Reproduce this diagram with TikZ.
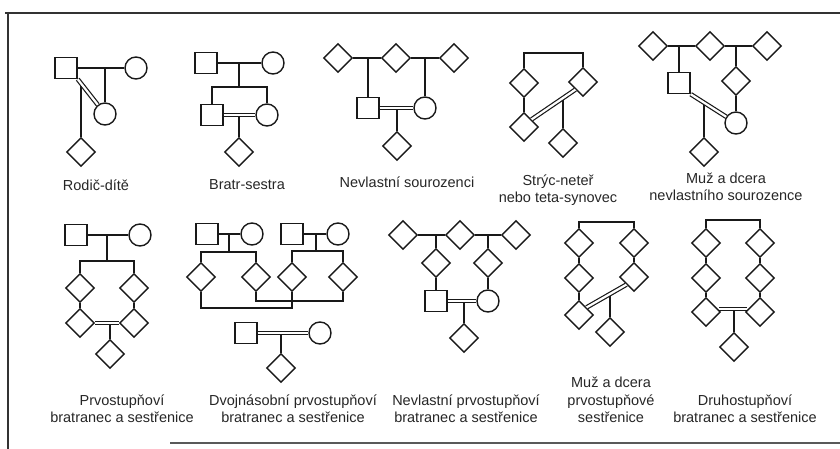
\documentclass[tikz,border=0pt]{standalone}
\usepackage{fontspec}
\setmainfont{Liberation Sans}
\usetikzlibrary{shapes.geometric}
\begin{document}
\begin{tikzpicture}[x=1pt,y=-1pt,
 ln/.style={line width=1.4pt, draw=black!90},
 sqn/.style={ln, rectangle, fill=white, minimum width=22pt, minimum height=21pt, inner sep=0pt},
 cir/.style={ln, circle, fill=white, minimum size=22pt, inner sep=0pt},
 dia/.style={ln, diamond, fill=white, minimum width=29pt, minimum height=29pt, inner sep=0pt, aspect=1},
 dbl/.style={line width=1.2pt, draw=black!90, double=white, double distance=2.2pt},
 lbl/.style={font=\fontsize{14.5}{17.5}\selectfont, align=center, text=black!85, inner sep=0pt},
 frame/.style={line width=2pt, draw=black!80}]
\useasboundingbox (0,0) rectangle (840,449);
% frame
\coordinate (fa) at (5,13); \coordinate (fb) at (840,13);
\coordinate (fc) at (8,12); \coordinate (fd) at (8,449);
\coordinate (fe) at (170,443); \coordinate (ff) at (840,443);
\draw[frame] (fa) -- (fb);
\draw[frame,line width=2.5pt] (fc) -- (fd);
\draw[frame,draw=black!65] (fe) -- (ff);

% ---------- 1 Rodic-dite
\node[sqn] (a1) at (66,68) {};
\node[cir] (a2) at (136,68) {};
\node[cir] (a3) at (105,114) {};
\coordinate (a12) at (105,68);
\draw[ln] (a1) -- (a2);
\draw[ln] (a12) -- (a3);
\coordinate (a4) at (81,83.6);
\node[dia] (a5) at (81,152) {};
\draw[ln] (a4) -- (a5);
\draw[dbl] (a1.south east) -- (a3);
\node[lbl] (ta) at (96,185) {Rodič-dítě};

% ---------- 2 Bratr-sestra
\node[sqn] (b1) at (206,63) {};
\node[cir] (b2) at (273,63) {};
\coordinate (b3) at (239,63);
\coordinate (b4) at (239,87);
\node[sqn] (b7) at (212,115) {};
\node[cir] (b8) at (267,115) {};
\draw[ln] (b1) -- (b2);
\draw[ln] (b3) -- (b4);
\draw[ln] (b7) -- (b7 |- b4) -- (b8 |- b4) -- (b8);
\coordinate (b9) at (239,115);
\node[dia] (b10) at (239,152) {};
\draw[ln] (b9) -- (b10);
\draw[dbl] (b7) -- (b8);
\node[lbl] (tb) at (247,185) {Bratr-sestra};

% ---------- 3 Nevlastni sourozenci
\node[dia] (c1) at (338,58) {};
\node[dia] (c2) at (396,58) {};
\node[dia] (c3) at (454,58) {};
\node[sqn] (c4) at (368,108) {};
\node[cir] (c5) at (425,108) {};
\coordinate (c6) at (368,58);
\coordinate (c7) at (425,58);
\draw[ln] (c1) -- (c2);
\draw[ln] (c2) -- (c3);
\draw[ln] (c6) -- (c4);
\draw[ln] (c7) -- (c5);
\coordinate (c8) at (397,108);
\node[dia] (c9) at (397,146) {};
\draw[ln] (c8) -- (c9);
\draw[dbl] (c4) -- (c5);
\node[lbl] (tc) at (407,182) {Nevlastní sourozenci};

% ---------- 4 Stryc-neter
\node[dia] (d1) at (524,83) {};
\node[dia] (d2) at (583,82) {};
\node[dia] (d3) at (524,127) {};
\coordinate (d1t) at (524,53);
\coordinate (d2t) at (583,53);
\draw[ln] (d1) -- (d1t) -- (d2t) -- (d2);
\draw[ln] (d1) -- (d3);
\coordinate (d5) at (563,98);
\node[dia] (d4) at (563,143) {};
\draw[ln] (d5) -- (d4);
\draw[dbl] (d2.south west) -- (d3.north east);
\node[lbl] (td) at (558,190) {Strýc-neteř\\nebo teta-synovec};

% ---------- 5 Muz a dcera nevlastniho sourozence
\node[dia] (e1) at (653,46) {};
\node[dia] (e2) at (710,46) {};
\node[dia] (e3) at (767,46) {};
\node[sqn] (e4) at (679,83) {};
\coordinate (e5) at (679,46);
\coordinate (e6) at (736,46);
\node[dia] (e7) at (736,81) {};
\node[cir] (e8) at (736,123) {};
\draw[ln] (e1) -- (e2);
\draw[ln] (e2) -- (e3);
\draw[ln] (e5) -- (e4);
\draw[ln] (e6) -- (e7);
\draw[ln] (e7) -- (e8);
\coordinate (e10) at (704,102.5);
\node[dia] (e9) at (704,152) {};
\draw[ln] (e10) -- (e9);
\draw[dbl] (e4.south east) -- (e8);
\node[lbl] (te) at (726,187) {Muž a dcera\\nevlastního sourozence};

% ---------- 6 Prvostupnovi
\node[sqn] (f1) at (76,235) {};
\node[cir] (f2) at (140,235) {};
\coordinate (f3) at (107,235);
\coordinate (f4) at (107,261);
\node[dia] (f5) at (80,288) {};
\node[dia] (f6) at (80,323) {};
\node[dia] (f7) at (134,288) {};
\node[dia] (f8) at (134,323) {};
\draw[ln] (f1) -- (f2);
\draw[ln] (f3) -- (f4);
\draw[ln] (f5) -- (f5 |- f4) -- (f7 |- f4) -- (f7);
\draw[ln] (f5) -- (f6);
\draw[ln] (f7) -- (f8);
\coordinate (f9) at (110,323);
\node[dia] (f10) at (110,354) {};
\draw[ln] (f9) -- (f10);
\draw[dbl] (f6) -- (f8);
\node[lbl] (tf) at (122,408.5) {Prvostupňoví\\bratranec a sestřenice};

% ---------- 7 Dvojnasobni
\node[sqn] (g1) at (207,234) {};
\node[cir] (g2) at (252,234) {};
\coordinate (g3) at (229,234);
\coordinate (g4) at (229,252);
\node[dia] (g5) at (201,277) {};
\node[dia] (g6) at (256,277) {};
\draw[ln] (g1) -- (g2);
\draw[ln] (g3) -- (g4);
\draw[ln] (g5) -- (g5 |- g4) -- (g6 |- g4) -- (g6);
\node[sqn] (h1) at (292,234) {};
\node[cir] (h2) at (338,234) {};
\coordinate (h3) at (316,234);
\coordinate (h4) at (316,251);
\node[dia] (h5) at (292,277) {};
\node[dia] (h6) at (343,277) {};
\draw[ln] (h1) -- (h2);
\draw[ln] (h3) -- (h4);
\draw[ln] (h5) -- (h5 |- h4) -- (h6 |- h4) -- (h6);
\coordinate (gb1) at (201,308);
\coordinate (gb2) at (292,308);
\coordinate (gb3) at (256,301);
\coordinate (gb4) at (343,301);
\draw[ln] (g5) -- (gb1) -- (gb2) -- (h5);
\draw[ln] (g6) -- (gb3) -- (gb4) -- (h6);
\node[sqn] (i1) at (246,333) {};
\node[cir] (i2) at (320,333) {};
\coordinate (i3) at (281,333);
\node[dia] (i4) at (281,368) {};
\draw[ln] (i3) -- (i4);
\draw[dbl] (i1) -- (i2);
\node[lbl] (tg) at (293,408.5) {Dvojnásobní prvostupňoví\\bratranec a sestřenice};

% ---------- 8 Nevlastni prvostupnovi
\node[dia] (j1) at (403,235) {};
\node[dia] (j2) at (460,235) {};
\node[dia] (j3) at (516,235) {};
\coordinate (j4) at (436,235);
\node[dia] (j5) at (436,263) {};
\node[sqn] (j6) at (436,301) {};
\coordinate (j7) at (488,235);
\node[dia] (j8) at (488,263) {};
\node[cir] (j9) at (488,301) {};
\draw[ln] (j1) -- (j2);
\draw[ln] (j2) -- (j3);
\draw[ln] (j4) -- (j5);
\draw[ln] (j5) -- (j6);
\draw[ln] (j7) -- (j8);
\draw[ln] (j8) -- (j9);
\coordinate (j10) at (464,301);
\node[dia] (j11) at (464,338) {};
\draw[ln] (j10) -- (j11);
\draw[dbl] (j6) -- (j9);
\node[lbl] (tj) at (466,408.5) {Nevlastní prvostupňoví\\bratranec a sestřenice};

% ---------- 9 Muz a dcera prvostupnove sestrenice
\node[dia] (k1) at (579,243) {};
\node[dia] (k2) at (579,278) {};
\node[dia] (k3) at (579,315) {};
\node[dia] (k4) at (634,243) {};
\node[dia] (k5) at (634,277) {};
\coordinate (k1t) at (579,222);
\coordinate (k4t) at (634,222);
\draw[ln] (k1) -- (k1t) -- (k4t) -- (k4);
\draw[ln] (k1) -- (k2);
\draw[ln] (k2) -- (k3);
\draw[ln] (k4) -- (k5);
\coordinate (k6) at (610,294);
\node[dia] (k7) at (610,332) {};
\draw[ln] (k6) -- (k7);
\draw[dbl] (k5.south west) -- (k3.north east);
\node[lbl] (tk) at (611,400) {Muž a dcera\\prvostupňové\\sestřenice};

% ---------- 10 Druhostupnovi
\node[dia] (l1) at (706,243) {};
\node[dia] (l2) at (706,278) {};
\node[dia] (l3) at (706,312) {};
\node[dia] (l4) at (760,243) {};
\node[dia] (l5) at (760,278) {};
\node[dia] (l6) at (760,312) {};
\coordinate (l1t) at (706,220);
\coordinate (l4t) at (760,220);
\draw[ln] (l1) -- (l1t) -- (l4t) -- (l4);
\draw[ln] (l1) -- (l2);
\draw[ln] (l2) -- (l3);
\draw[ln] (l4) -- (l5);
\draw[ln] (l5) -- (l6);
\coordinate (l7) at (734,309);
\node[dia] (l8) at (734,347) {};
\draw[ln] (l7) -- (l8);
\coordinate (l3e) at (719,309);
\coordinate (l6w) at (747,309);
\draw[dbl] (l3e) -- (l6w);
\node[lbl] (tl) at (745,408.5) {Druhostupňoví\\bratranec a sestřenice};
\end{tikzpicture}
\end{document}
